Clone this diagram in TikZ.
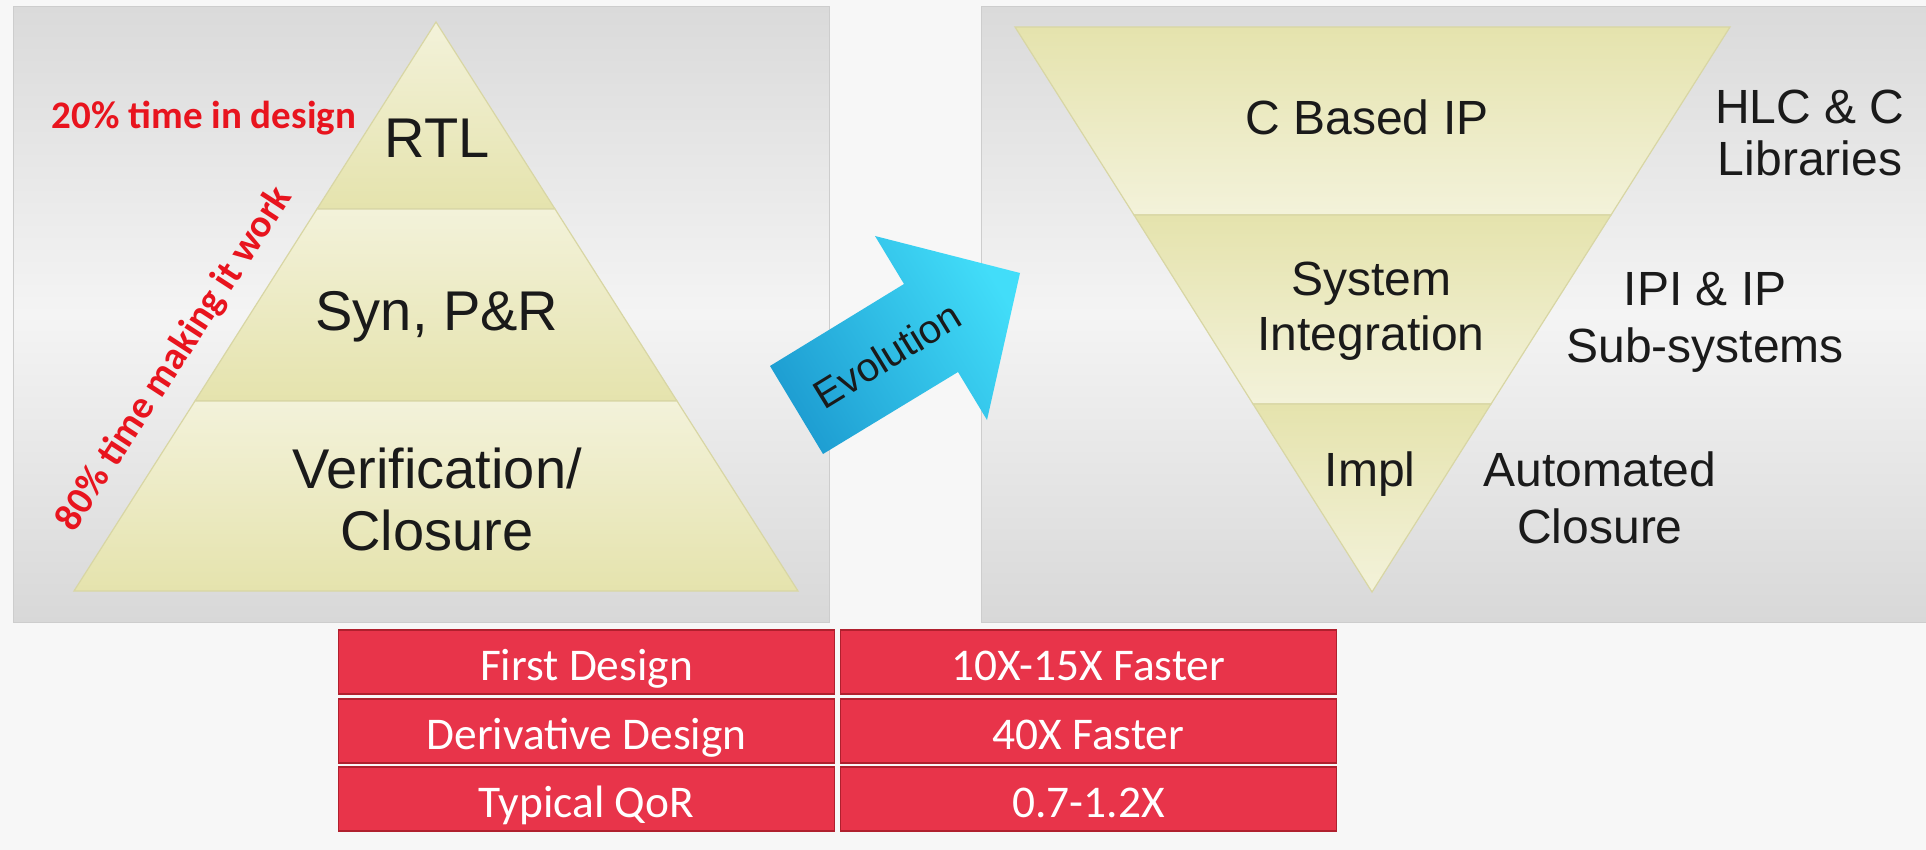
\documentclass[tikz,border=0pt]{standalone}
\usepackage{fontspec}
\setmainfont{Liberation Sans}
\newfontfamily\calibrifont{Carlito}

\definecolor{pagebg}{HTML}{F7F7F7}
\definecolor{panelTop}{HTML}{DADADA}
\definecolor{panelMid}{HTML}{F4F4F4}
\definecolor{panelBot}{HTML}{D8D8D8}
\definecolor{panelLine}{HTML}{CDCDCD}
\definecolor{khakiDark}{HTML}{E5E3AD}
\definecolor{khakiLight}{HTML}{F3F2DA}
\definecolor{khakiLine}{HTML}{D8D6A4}
\definecolor{noteRed}{HTML}{E8141E}
\definecolor{cellRed}{HTML}{E8344A}
\definecolor{cellEdge}{HTML}{B0202E}
\definecolor{arrowDark}{HTML}{1E9ED2}
\definecolor{arrowLight}{HTML}{42DDF9}
\definecolor{ink}{HTML}{1A1A1A}

\begin{document}
\begin{tikzpicture}[x=0.5pt, y=-0.5pt,
  panel/.style={top color=panelTop, bottom color=panelBot, middle color=panelMid},
  bandup/.style={top color=khakiLight, bottom color=khakiDark, draw=khakiLine, line width=0.6pt},
  banddown/.style={top color=khakiDark, bottom color=khakiLight, draw=khakiLine, line width=0.6pt},
  lbl/.style={text=ink, inner sep=0pt, anchor=base, font=\fontsize{28pt}{28pt}\selectfont},
  rlbl/.style={text=ink, inner sep=0pt, anchor=base, font=\fontsize{24pt}{24pt}\selectfont},
  note/.style={text=noteRed, inner sep=0pt, font=\calibrifont\bfseries\fontsize{19.5pt}{19.5pt}\selectfont},
  cell/.style={rectangle, fill=cellRed, draw=cellEdge, line width=0.8pt,
    minimum width=248pt, minimum height=32pt, inner sep=0pt,
    text=white, text height=18.5pt, text depth=0pt,
    font=\calibrifont\fontsize{22.7pt}{22.7pt}\selectfont}]

\useasboundingbox (0,0) rectangle (1926,850);
\fill[pagebg] (0,0) rectangle (1926,850);

% background panels
\shade[panel] (13,7) rectangle (829,622);
\draw[panelLine, line width=0.5pt] (13,7) rectangle (829,622);
\shade[panel] (981,7) rectangle (1926,622);
\draw[panelLine, line width=0.5pt] (1926,7) -- (981,7) -- (981,622) -- (1926,622);

% classic flow: pyramid
\shade[bandup] (436,22) -- (555,209) -- (317,209) -- cycle;
\shade[bandup] (317,209) -- (555,209) -- (677,401) -- (195,401) -- cycle;
\shade[bandup] (195,401) -- (677,401) -- (798,591) -- (74,591) -- cycle;

\node[lbl] (rtl) at (437,158) {RTL};
\node[lbl] (syn) at (437,330) {Syn, P\&R};
\node[lbl] (verif) at (437,488) {Verification/};
\node[lbl] (closeA) at (437,550) {Closure};

\node[note, anchor=base] (design) at (204,129) {20\% time in design};
\node[note, rotate=57] (work) at (175,359) {80\% time making it work};

% evolution arrow
\shade[top color=arrowLight, bottom color=arrowDark, shading angle=-58.5]
  (770,366) -- (904,284) -- (875,236) -- (1020,273) -- (987,420) -- (958,372) -- (823,454) -- cycle;
\node[text=ink, inner sep=0pt, rotate=31.5, font=\fontsize{20pt}{20pt}\selectfont] (evo) at (887,355) {Evolution};

% new flow: inverted pyramid
\shade[banddown] (1015,27) -- (1730,27) -- (1611,215) -- (1134,215) -- cycle;
\shade[banddown] (1134,215) -- (1611,215) -- (1491,404) -- (1253,404) -- cycle;
\shade[banddown] (1253,404) -- (1491,404) -- (1372,592) -- cycle;

\node[rlbl] (cip) at (1367,135) {C Based IP};
\node[rlbl] (hlc) at (1810,124) {HLC \& C};
\node[rlbl] (libs) at (1810,176) {Libraries};
\node[rlbl] (sys) at (1371,295) {System};
\node[rlbl] (integ) at (1371,350) {Integration};
\node[rlbl] (ipi) at (1705,306) {IPI \& IP};
\node[rlbl] (subs) at (1705,362) {Sub-systems};
\node[rlbl] (impl) at (1370,486) {Impl};
\node[rlbl] (auto) at (1600,486) {Automated};
\node[rlbl] (closeB) at (1600,543) {Closure};

% results table
\node[cell] (c11) at (586.5,662) {First Design};
\node[cell] (c12) at (1088.5,662) {10X-15X Faster};
\node[cell] (c21) at (586.5,731) {Derivative Design};
\node[cell] (c22) at (1088.5,731) {40X Faster};
\node[cell] (c31) at (586.5,799) {Typical QoR};
\node[cell] (c32) at (1088.5,799) {0.7-1.2X};
\end{tikzpicture}
\end{document}
